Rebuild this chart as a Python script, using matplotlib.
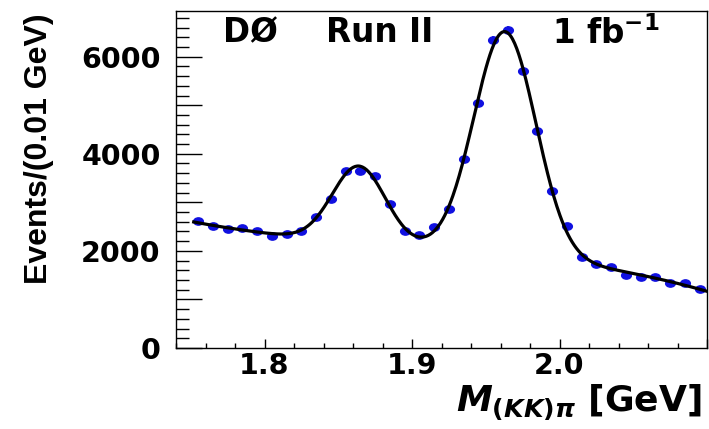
import numpy as np
import matplotlib
matplotlib.use("Agg")
import matplotlib.pyplot as plt
from matplotlib.ticker import MultipleLocator, FuncFormatter
from matplotlib.path import Path
from matplotlib.transforms import Affine2D

plt.rcParams["mathtext.fontset"] = "custom"
plt.rcParams["mathtext.rm"] = "DejaVu Sans:bold"
plt.rcParams["mathtext.bf"] = "DejaVu Sans:bold"
plt.rcParams["mathtext.it"] = "DejaVu Sans:italic:bold"

# bin centres of M(KK)pi, 0.01 GeV bins
mass = np.round(np.arange(1.755, 2.096, 0.01), 3)
# events per bin
events = np.array([
    2612, 2507, 2458, 2472, 2400, 2307, 2344, 2414, 2705, 3060,
    3643, 3643, 3536, 2969, 2400, 2330, 2485, 2862, 3890, 5045,
    6338, 6551, 5705, 4460, 3231, 2522, 1882, 1740, 1666, 1509,
    1454, 1466, 1332, 1332, 1219,
])
errors = np.sqrt(events)

x_ticks = [1.8, 1.9, 2.0]
y_ticks = [0, 2000, 4000, 6000]


def gauss(x, mu, sig):
    return np.exp(-0.5 * ((x - mu) / sig) ** 2)


def design(x, m1, s1, m2, s2):
    u = x - 1.92
    return np.column_stack([np.ones_like(x), u, u ** 2, u ** 3,
                            gauss(x, m1, s1), gauss(x, m2, s2)])


# fit: cubic background + D+ and Ds gaussians (chi2 scan over mean/width)
w = 1.0 / errors
best = None
for m1 in np.arange(1.860, 1.8705, 0.001):
    for s1 in np.arange(0.014, 0.0225, 0.001):
        for m2 in np.arange(1.960, 1.9705, 0.001):
            for s2 in np.arange(0.016, 0.0265, 0.001):
                A = design(mass, m1, s1, m2, s2)
                c, *_ = np.linalg.lstsq(A * w[:, None], events * w, rcond=None)
                chi2 = np.sum(((A @ c - events) * w) ** 2)
                if best is None or chi2 < best[0]:
                    best = (chi2, (m1, s1, m2, s2), c)

_, pars, coef = best
x_fit = np.linspace(1.752, 2.10, 500)
y_fit = design(x_fit, *pars) @ coef

fig = plt.figure(figsize=(7.09, 4.29), dpi=100)
ax = fig.add_axes([176 / 709, 1 - 348 / 429, 531 / 709, 336.5 / 429])

ellipse = Path.unit_circle().transformed(Affine2D().scale(1.0, 0.75))
ax.errorbar(mass, events, yerr=errors, fmt="none", ecolor="#1010e0", elinewidth=1.2, zorder=2)
ax.plot(mass, events, linestyle="none", marker=ellipse, markersize=7,
        color="#1010e0", markeredgecolor="#1010e0", zorder=3)
ax.plot(x_fit, y_fit, color="black", linewidth=2.3, zorder=4)

ax.set_xlim(1.74, 2.10)
ax.set_ylim(0, 6930)

ax.xaxis.set_major_locator(MultipleLocator(0.1))
ax.xaxis.set_minor_locator(MultipleLocator(0.02))
ax.xaxis.set_major_formatter(FuncFormatter(
    lambda v, _: f"{v:.1f}" if any(abs(v - t) < 1e-6 for t in x_ticks) else ""))
ax.yaxis.set_major_locator(MultipleLocator(1000))
ax.yaxis.set_minor_locator(MultipleLocator(200))
ax.yaxis.set_major_formatter(FuncFormatter(lambda v, _: f"{v:.0f}" if round(v) in y_ticks else ""))

ax.tick_params(axis="both", which="both", direction="in", top=False, right=False,
               width=1.0, color="black")
ax.tick_params(axis="y", which="major", length=19, pad=11)
ax.tick_params(axis="y", which="minor", length=9)
ax.tick_params(axis="x", which="major", length=6.5, pad=3)
ax.tick_params(axis="x", which="minor", length=3.3)
for lab in ax.get_xticklabels() + ax.get_yticklabels():
    lab.set_fontfamily("DejaVu Sans")
    lab.set_fontweight("bold")
    lab.set_fontsize(20.5)

for sp in ax.spines.values():
    sp.set_linewidth(1.0)
    sp.set_color("black")

ax.set_xlabel(r"$M_{(KK)\pi}$ [GeV]", fontfamily="DejaVu Sans", fontweight="bold",
              fontsize=26, loc="right")
ax.xaxis.set_label_coords(1 - 5 / 531, -34 / 336.5)
ax.xaxis.label.set_verticalalignment("top")

fig.text(39 / 709, 1 - 13 / 429, "Events/(0.01 GeV)", rotation=90, ha="center", va="top",
         fontfamily="Liberation Sans", fontweight="bold", fontsize=23)

fig.text(223 / 709, 1 - 42 / 429, "DØ", fontfamily="DejaVu Sans", fontweight="bold",
         fontsize=23.5, va="baseline", ha="left")
fig.text(326 / 709, 1 - 42 / 429, "Run II", fontfamily="DejaVu Sans", fontweight="bold",
         fontsize=23.5, va="baseline", ha="left")
fig.text(552 / 709, 1 - 44 / 429, r"1 fb$^{-1}$", fontfamily="DejaVu Sans", fontweight="bold",
         fontsize=23.5, va="baseline", ha="left")

fig.savefig("out.png", dpi=100)
